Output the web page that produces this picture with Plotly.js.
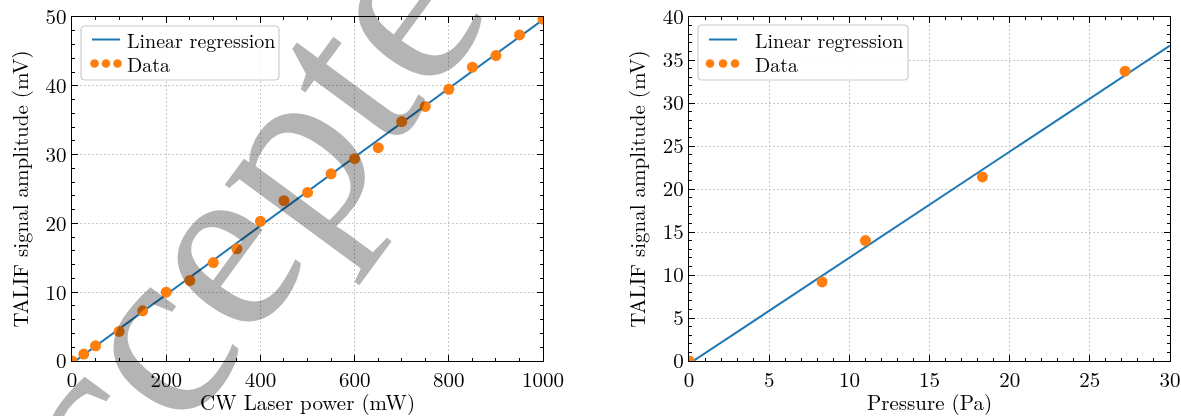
<!DOCTYPE html>
<html><head><meta charset="utf-8">
<script src="https://cdn.plot.ly/plotly-3.0.1.min.js"></script>
<style>html,body{margin:0;padding:0;background:#fff;}</style>
</head><body>
<div id="chart" style="width:1181px;height:416px;"></div>
<script>
// Left panel: TALIF signal vs CW laser power
const powerMW = [0,25,50,100,150,200,250,300,350,400,450,500,550,600,650,700,750,800,850,900,950,1000];
const signalPower = [0,1.0,2.2,4.3,7.3,10.0,11.7,14.3,16.3,20.3,23.3,24.5,27.2,29.4,31.0,34.8,37.0,39.5,42.7,44.4,47.4,49.7];
// Right panel: TALIF signal vs pressure
const pressurePa = [0,8.3,11.0,18.3,27.2];
const signalPressure = [0,9.2,14.0,21.4,33.7];
const powerRange = [0,1000];
const pressureRange = [0,30];
const legendLabels = ['Linear regression','Data'];

function fit(x,y){
  const n=x.length; let mx=0,my=0; for(let i=0;i<n;i++){mx+=x[i];my+=y[i];} mx/=n; my/=n;
  let sxy=0,sxx=0; for(let i=0;i<n;i++){sxy+=(x[i]-mx)*(y[i]-my); sxx+=(x[i]-mx)*(x[i]-mx);}
  const b=sxy/sxx, a=my-b*mx; return r=>r.map(v=>a+b*v);
}
const f1=fit(powerMW,signalPower), f2=fit(pressurePa,signalPressure);

const FONT="Latin Modern Roman, Liberation Serif, serif";
const WMFONT="Liberation Serif, serif";
const BLUE='#1f77b4', ORANGE='#ff7f0e';
const traces=[
 {x:powerRange,y:f1(powerRange),mode:'lines',name:legendLabels[0],line:{color:BLUE,width:2},xaxis:'x',yaxis:'y'},
 {x:powerMW,y:signalPower,mode:'markers',name:legendLabels[1],marker:{color:ORANGE,size:11},xaxis:'x',yaxis:'y'},
 {x:pressureRange,y:f2(pressureRange),mode:'lines',name:legendLabels[0],line:{color:BLUE,width:2},xaxis:'x2',yaxis:'y2'},
 {x:pressurePa,y:signalPressure,mode:'markers',name:legendLabels[1],marker:{color:ORANGE,size:11},xaxis:'x2',yaxis:'y2'}
];
function ax(range,dtick,mdtick,title,extra){
  return Object.assign({range:range,dtick:dtick,tick0:0,ticks:'inside',ticklen:6,tickwidth:1,tickcolor:'#000',
    mirror:'allticks',showline:true,linecolor:'#000',linewidth:1.2,zeroline:false,
    showgrid:true,gridcolor:'#c8c8c8',griddash:'2px,2px',gridwidth:1,
    minor:{ticks:'inside',ticklen:3,tickcolor:'#000',dtick:mdtick,tick0:0,showgrid:false},
    tickfont:{family:FONT,size:21,color:'#000'},
    title:{text:title,font:{family:FONT,size:21,color:'#000'},standoff:11},automargin:false,fixedrange:true},extra||{});
}
// pixel -> paper helpers for the hand-drawn legend boxes
const L=72, T=17, PW=1098, PH=344;
const px=v=>(v-L)/PW, py=v=>(T+PH-v)/PH;
function roundRect(x0,y0,x1,y1,r){
  const X=v=>px(v).toFixed(5), Y=v=>py(v).toFixed(5);
  return `M${X(x0+r)},${Y(y0)} L${X(x1-r)},${Y(y0)} Q${X(x1)},${Y(y0)} ${X(x1)},${Y(y0+r)} L${X(x1)},${Y(y1-r)} Q${X(x1)},${Y(y1)} ${X(x1-r)},${Y(y1)} L${X(x0+r)},${Y(y1)} Q${X(x0)},${Y(y1)} ${X(x0)},${Y(y1-r)} L${X(x0)},${Y(y0+r)} Q${X(x0)},${Y(y0)} ${X(x0+r)},${Y(y0)} Z`;
}
const shapes=[], annotations=[];
function legendBox(b){
  shapes.push({type:'path',xref:'paper',yref:'paper',path:roundRect(b.x0,b.y0,b.x1,b.y1,4),
    fillcolor:'rgba(255,255,255,0.85)',line:{color:'#cccccc',width:1.2},layer:'above'});
  shapes.push({type:'line',xref:'paper',yref:'paper',x0:px(b.lx0),x1:px(b.lx1),y0:py(b.r1),y1:py(b.r1),line:{color:BLUE,width:2},layer:'above'});
  b.dots.forEach(d=>shapes.push({type:'circle',xref:'paper',yref:'paper',x0:px(d-4.3),x1:px(d+4.3),y0:py(b.r2-4.3),y1:py(b.r2+4.3),
    fillcolor:ORANGE,line:{width:0},layer:'above'}));
  [b.r1,b.r2].forEach((r,i)=>annotations.push({xref:'paper',yref:'paper',x:px(b.tx),y:py(r),xanchor:'left',yanchor:'middle',align:'left',
    text:legendLabels[i],showarrow:false,font:{family:FONT,size:20,color:'#000'}}));
}
legendBox({x0:81,y0:26,x1:279,y1:80,lx0:92,lx1:120,r1:39.5,r2:63.5,dots:[94.5,106,117.5],tx:125});
legendBox({x0:698,y0:25,x1:908,y1:80,lx0:709,lx1:737,r1:39.5,r2:63.5,dots:[710,723,735],tx:753});
annotations.push({xref:'paper',yref:'paper',x:px(221),y:py(240),xanchor:'center',yanchor:'middle',text:'Accepted',showarrow:false,textangle:-53.7,
    font:{family:WMFONT,size:250,color:'rgb(180,180,180)'}});

const layout={
  width:1181,height:416,margin:{l:72,r:11,t:17,b:55},paper_bgcolor:'#fff',plot_bgcolor:'#fff',
  font:{family:FONT,size:20,color:'#000'},
  showlegend:false,
  xaxis:ax([0,1000],200,50,'CW Laser power (mW)',{domain:[0,0.429],anchor:'y'}),
  yaxis:ax([0,50],10,2,'TALIF signal amplitude (mV)',{anchor:'x'}),
  xaxis2:ax([0,30],5,1,'Pressure (Pa)',{domain:[0.562,1],anchor:'y2'}),
  yaxis2:ax([0,40],5,1,'TALIF signal amplitude (mV)',{anchor:'x2'}),
  shapes:shapes, annotations:annotations
};
Plotly.newPlot('chart',traces,layout,{staticPlot:true,displayModeBar:false}).then(()=>{
  document.querySelectorAll('#chart svg text').forEach(t=>{
    const isWM = t.textContent==='Accepted';
    t.style.setProperty('font-family', isWM ? "'Liberation Serif', serif" : "'Latin Modern Roman', 'Liberation Serif', serif", 'important');
  });
  document.querySelectorAll('.annotation').forEach(g=>{
    if(g.textContent!=='Accepted') return;
    g.style.mixBlendMode='multiply';
    // keep the watermark centred in its box now that the real font is applied
    const rect=g.querySelector('rect.bg'), txt=g.querySelector('text');
    if(rect && txt){
      const cx=(parseFloat(rect.getAttribute('x'))||0)+parseFloat(rect.getAttribute('width'))/2;
      txt.setAttribute('text-anchor','middle');
      txt.setAttribute('x',cx);
      txt.querySelectorAll('tspan').forEach(s=>{ if(s.hasAttribute('x')) s.setAttribute('x',cx); });
    }
  });
});
</script>
</body></html>
